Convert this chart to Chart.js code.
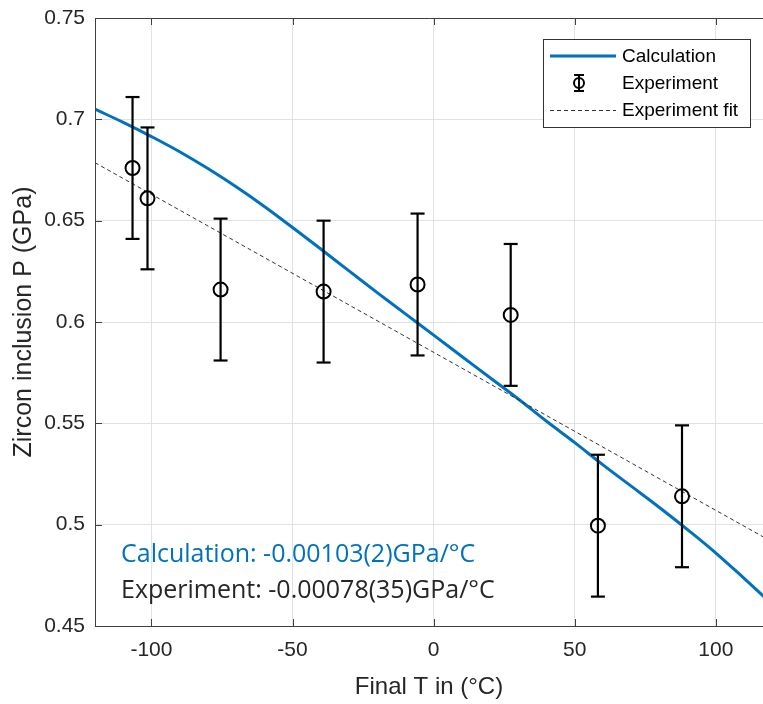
<!DOCTYPE html>
<html>
<head>
<meta charset="utf-8">
<script src="https://cdn.jsdelivr.net/npm/chart.js@4/dist/chart.umd.min.js"></script>
<style>
  body { margin: 0; background: #fff; }
  #wrap { width: 763px; height: 704px; }
</style>
</head>
<body>
<div id="wrap"><canvas id="chart" width="763" height="704"></canvas></div>
<script>
// model curve (Calculation)
const calcT = [-120, -110, -100, -90, -80, -70, -60, -50, -40, -30, -20, -10, 0, 10, 20, 30, 40, 50, 60, 70, 80, 90, 100, 110, 117];
const calcP = [0.705, 0.6985, 0.6915, 0.684, 0.6757, 0.6667, 0.657, 0.6466, 0.636, 0.6252, 0.6145, 0.604, 0.5935, 0.583, 0.5725, 0.562, 0.551, 0.5405, 0.5295, 0.519, 0.5085, 0.4975, 0.486, 0.4735, 0.4645];

// measurements
const expT = [-106.7, -101.4, -75.5, -39, -5.7, 27.3, 58.2, 88];
const expP = [0.676, 0.661, 0.616, 0.615, 0.6185, 0.6035, 0.4995, 0.514];
const expErr = [0.035, 0.035, 0.035, 0.035, 0.035, 0.035, 0.035, 0.035];

// linear fit of the measurements
const fitT = [-120, 117];
const fitP = [0.6786, 0.4938];

const xTicks = [-100, -50, 0, 50, 100];
const yTicks = [0.45, 0.5, 0.55, 0.6, 0.65, 0.7, 0.75];

const calcLabel = 'Calculation: -0.00103(2)GPa/°C';
const expLabel = 'Experiment: -0.00078(35)GPa/°C';

const BLUE = '#0072BD';
const AXIS = '#404040';
const TXT = '#262626';

const errPoints = [];
expT.forEach((t, i) => {
    errPoints.push({x: t, y: expP[i] - expErr[i]});
    errPoints.push({x: t, y: expP[i] + expErr[i]});
    errPoints.push({x: t, y: null});
});

// box, inward ticks, legend and the two slope notes
const extras = {
    id: 'extras',
    afterDraw(chart) {
        const ctx = chart.ctx;
        const a = chart.chartArea;
        const xs = chart.scales.x, ys = chart.scales.y;
        ctx.save();
        ctx.strokeStyle = AXIS;
        ctx.lineWidth = 1;
        ctx.beginPath();
        ctx.moveTo(a.left + 0.5, a.bottom + 0.5);
        ctx.lineTo(a.left + 0.5, a.top + 0.5);
        ctx.lineTo(a.right, a.top + 0.5);
        ctx.moveTo(a.left, a.bottom + 0.5);
        ctx.lineTo(a.right, a.bottom + 0.5);
        xTicks.forEach(v => {
            const px = Math.round(xs.getPixelForValue(v)) + 0.5;
            ctx.moveTo(px, a.bottom); ctx.lineTo(px, a.bottom - 7);
            ctx.moveTo(px, a.top); ctx.lineTo(px, a.top + 7);
        });
        yTicks.forEach(v => {
            const py = Math.round(ys.getPixelForValue(v)) + 0.5;
            ctx.moveTo(a.left, py); ctx.lineTo(a.left + 7, py);
        });
        ctx.stroke();

        // legend
        const lx = a.right - 220, ly = a.top + 21, lw = 207, lh = 88;
        ctx.fillStyle = '#fff';
        ctx.fillRect(lx, ly, lw, lh);
        ctx.strokeStyle = '#333';
        ctx.strokeRect(lx + 0.5, ly + 0.5, lw, lh);
        const rows = [ly + 17, ly + 44, ly + 71];
        ctx.strokeStyle = BLUE;
        ctx.lineWidth = 3;
        ctx.beginPath();
        ctx.moveTo(lx + 7, rows[0]); ctx.lineTo(lx + 73, rows[0]);
        ctx.stroke();
        ctx.strokeStyle = '#000';
        ctx.lineWidth = 2;
        const mx = lx + 36;
        ctx.beginPath();
        ctx.moveTo(mx, rows[1] - 8); ctx.lineTo(mx, rows[1] + 8);
        ctx.moveTo(mx - 5, rows[1] - 8); ctx.lineTo(mx + 5, rows[1] - 8);
        ctx.moveTo(mx - 5, rows[1] + 8); ctx.lineTo(mx + 5, rows[1] + 8);
        ctx.stroke();
        ctx.beginPath();
        ctx.arc(mx, rows[1], 5, 0, Math.PI * 2);
        ctx.stroke();
        ctx.strokeStyle = '#333';
        ctx.lineWidth = 1;
        ctx.setLineDash([4, 3]);
        ctx.beginPath();
        ctx.moveTo(lx + 7, rows[2] + 0.5); ctx.lineTo(lx + 73, rows[2] + 0.5);
        ctx.stroke();
        ctx.setLineDash([]);
        ctx.fillStyle = '#000';
        ctx.font = '19px "Liberation Sans", Arial, sans-serif';
        ctx.textBaseline = 'middle';
        ctx.fillText('Calculation', lx + 79, rows[0] + 1);
        ctx.fillText('Experiment', lx + 79, rows[1] + 1);
        ctx.fillText('Experiment fit', lx + 79, rows[2] + 1);

        // slope notes
        ctx.textBaseline = 'alphabetic';
        ctx.font = '25px "Open Sans", sans-serif';
        ctx.fillStyle = BLUE;
        ctx.fillText(calcLabel, a.left + 26, a.bottom - 64);
        ctx.fillStyle = TXT;
        ctx.fillText(expLabel, a.left + 26, a.bottom - 28);
        ctx.restore();
    }
};

const ctx = document.getElementById('chart').getContext('2d');
const chart = new Chart(ctx, {
    type: 'line',
    data: {
        datasets: [
            {
                label: 'Experiment',
                data: expT.map((t, i) => ({x: t, y: expP[i]})),
                showLine: false,
                pointStyle: 'circle',
                pointRadius: 7,
                pointBorderWidth: 2,
                pointBorderColor: '#000',
                pointBackgroundColor: 'rgba(0,0,0,0)'
            },
            {
                label: 'Error',
                data: errPoints,
                borderColor: '#000',
                borderWidth: 2.2,
                spanGaps: false,
                pointStyle: 'line',
                pointRadius: 7,
                pointBorderWidth: 2.2,
                pointBorderColor: '#000'
            },
            {
                label: 'Experiment fit',
                data: fitT.map((t, i) => ({x: t, y: fitP[i]})),
                borderColor: '#333',
                borderWidth: 1,
                borderDash: [4, 3],
                pointRadius: 0
            },
            {
                label: 'Calculation',
                data: calcT.map((t, i) => ({x: t, y: calcP[i]})),
                borderColor: BLUE,
                borderWidth: 3,
                tension: 0.4,
                pointRadius: 0
            }
        ]
    },
    options: {
        responsive: false,
        animation: false,
        devicePixelRatio: 1,
        layout: { autoPadding: false, padding: { top: 18, right: 0, left: 0, bottom: 0 } },
        plugins: { legend: { display: false }, tooltip: { enabled: false } },
        scales: {
            x: {
                type: 'linear',
                min: -120,
                max: 116.7,
                afterBuildTicks: s => { s.ticks = xTicks.map(v => ({value: v})); },
                afterFit: s => { s.height = 78; s.paddingLeft = 0; s.paddingRight = 0; },
                grid: { color: '#e2e2e2', drawTicks: false },
                border: { display: false },
                ticks: {
                    padding: 12,
                    color: TXT,
                    font: { family: '"Liberation Sans", Arial, sans-serif', size: 21 }
                },
                title: {
                    display: true,
                    text: 'Final T in (°C)',
                    color: TXT,
                    padding: { top: 0, bottom: 2 },
                    font: { family: '"Liberation Sans", Arial, sans-serif', size: 24 }
                }
            },
            y: {
                min: 0.45,
                max: 0.75,
                afterBuildTicks: s => { s.ticks = yTicks.map(v => ({value: v})); },
                afterFit: s => { s.width = 95; s.paddingTop = 0; s.paddingBottom = 0; },
                grid: { color: '#e2e2e2', drawTicks: false },
                border: { display: false },
                ticks: {
                    padding: 10,
                    color: TXT,
                    callback: v => String(+v.toFixed(2)),
                    font: { family: '"Liberation Sans", Arial, sans-serif', size: 21 }
                },
                title: {
                    display: true,
                    text: 'Zircon inclusion P (GPa)',
                    color: TXT,
                    padding: { top: 9, bottom: 0 },
                    font: { family: '"Liberation Sans", Arial, sans-serif', size: 25 }
                }
            }
        }
    },
    plugins: [extras]
});
</script>
</body>
</html>
